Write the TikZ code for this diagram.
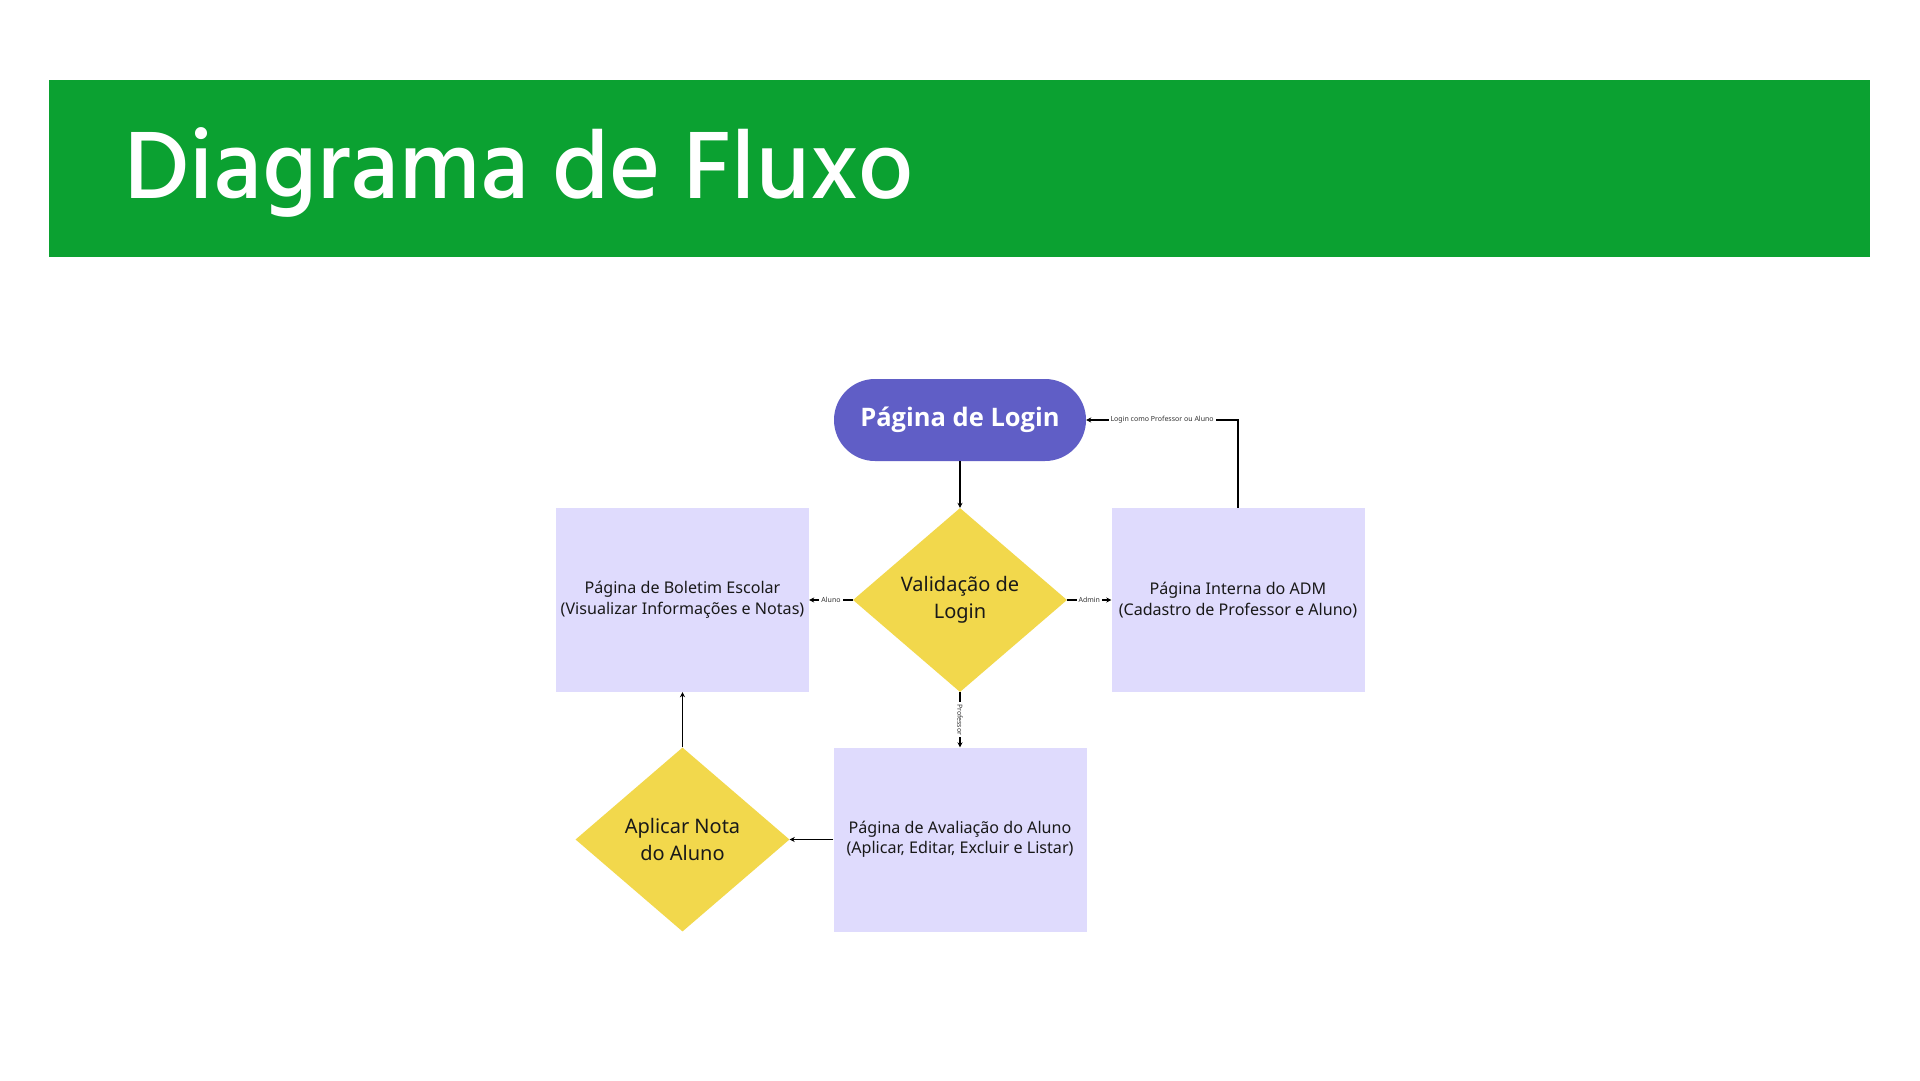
\documentclass[tikz,border=0pt]{standalone}
\usepackage{fontspec}
\setmainfont{Noto Sans}
\newfontfamily\titlefont{Hind Siliguri}[UprightFont=* Medium]
\newfontfamily\loginfont{Open Sans}[UprightFont=* Bold]
\usetikzlibrary{shapes.geometric,arrows.meta}
\definecolor{bannergreen}{RGB}{11,161,49}
\definecolor{pillblue}{RGB}{96,94,198}
\definecolor{diayellow}{RGB}{242,216,76}
\definecolor{boxlav}{RGB}{223,219,253}
\definecolor{labelgray}{RGB}{51,51,51}
\begin{document}
\begin{tikzpicture}[x=1pt,y=-1pt,
  procbox/.style={rectangle,fill=boxlav,minimum width=253pt,minimum height=184pt,inner sep=0pt,align=center,font=\fontsize{16.1}{20.5}\selectfont,text=black!90},
  decision/.style={diamond,fill=diayellow,minimum width=214pt,minimum height=184pt,inner sep=0pt,align=center,font=\fontsize{20}{27}\selectfont,text=black!90},
  flow/.style={line width=1.3pt,-{Stealth[length=5pt,width=5pt]}},
  lbl/.style={fill=white,inner sep=2pt,font=\fontsize{7}{8}\selectfont,text=labelgray}]
\fill[white] (0,0) rectangle (1920,1080);
\useasboundingbox (0,0) rectangle (1920,1080);
\fill[bannergreen] (49,80) rectangle (1870,257);
\node[anchor=base west,inner sep=0pt,text=white,font=\titlefont\fontsize{98}{100}\selectfont] (title) at (124,198) {Diagrama de Fluxo};

\node[rectangle,rounded corners=41pt,fill=pillblue,minimum width=252pt,minimum height=82pt,text=white,font=\loginfont\fontsize{25.5}{28}\selectfont] (login) at (960,420) {Página de Login};
\node[decision] (valid) at (960,600) {Validação de\\Login};
\node[procbox] (bol) at (682.5,600) {Página de Boletim Escolar\\(Visualizar Informações e Notas)};
\node[procbox] (adm) at (1238,600) {Página Interna do ADM\\(Cadastro de Professor e Aluno)};
\node[procbox] (aval) at (960,839.5) {Página de Avaliação do Aluno\\(Aplicar, Editar, Excluir e Listar)};
\node[decision] (nota) at (682.5,839.5) {Aplicar Nota\\do Aluno};

\draw[flow] (login.south) -- (valid.north);
\draw[flow] (valid.west) -- node[lbl] {Aluno} (bol.east);
\draw[flow] (valid.east) -- node[lbl] {Admin} (adm.east -| adm.west);
\draw[flow] (valid.south) -- node[lbl,rotate=-90] {Professor} (aval.north);
\draw[flow] (adm.north) |- node[lbl,pos=0.75] {Login como Professor ou Aluno} (login.east);
\draw[flow] (aval.west) -- (nota.east);
\draw[flow] (nota.north) -- (bol.south);
\end{tikzpicture}
\end{document}
